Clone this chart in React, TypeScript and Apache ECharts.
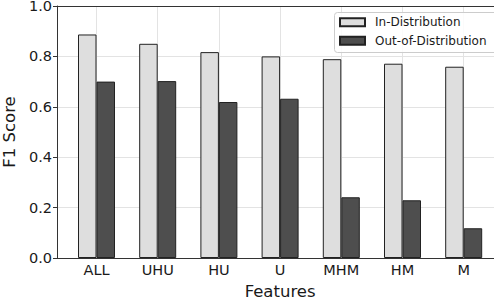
import React, { useEffect, useRef } from "react";
import * as echarts from "echarts";

const categories = ["ALL", "UHU", "HU", "U", "MHM", "HM", "M"];
const inDistribution = [0.887, 0.85, 0.817, 0.8, 0.789, 0.771, 0.759];
const outOfDistribution = [0.7, 0.702, 0.619, 0.632, 0.241, 0.229, 0.118];
const seriesNames = ["In-Distribution", "Out-of-Distribution"];

const FONT = "DejaVu Sans";

export default function App() {
  const ref = useRef<HTMLDivElement>(null);
  useEffect(() => {
    if (!ref.current) return;
    const chart = echarts.init(ref.current, undefined, { renderer: "svg" });
    chart.setOption({
      animation: false,
      backgroundColor: "#ffffff",
      grid: [
        { left: 57, top: 6, width: 437, height: 252, outerBoundsMode: "none", containLabel: false },
        { left: 65.9, top: 6, width: 428.4, height: 252, outerBoundsMode: "none", containLabel: false },
        { left: 35.3, top: 6, width: 489.6, height: 252, outerBoundsMode: "none", containLabel: false },
      ],
      graphic: [
        {
          type: "rect",
          z: 9,
          shape: { x: 334.5, y: 12.5, width: 200, height: 40, r: 3 },
          style: { fill: "rgba(255,255,255,0.85)", stroke: "#cccccc", lineWidth: 1 },
          silent: true,
        },
      ],
      legend: {
        data: seriesNames,
        orient: "vertical",
        left: 334,
        top: 12.3,
        itemWidth: 25,
        itemHeight: 8,
        itemGap: 4.5,
        icon: "rect",
        padding: [3, 5, 5, 5],
        textStyle: { fontFamily: FONT, fontSize: 12, color: "#1a1a1a", lineHeight: 14, padding: [0, 0, 0, 5] },
        z: 10,
      },
      xAxis: [
        {
          gridIndex: 0,
          type: "value",
          min: 0,
          max: 1,
          position: "bottom",
          axisLine: { show: true, onZero: false, lineStyle: { color: "#333" } },
          axisTick: { show: false },
          axisLabel: { show: false },
          splitLine: { show: false },
        },
        {
          gridIndex: 0,
          type: "value",
          min: 0,
          max: 1,
          position: "top",
          axisLine: { show: true, onZero: false, lineStyle: { color: "#333" } },
          axisTick: { show: false },
          axisLabel: { show: false },
          splitLine: { show: false },
        },
        {
          gridIndex: 1,
          type: "category",
          data: categories,
          axisLine: { show: false },
          axisTick: { alignWithLabel: true, length: 4, lineStyle: { color: "#333" } },
          axisLabel: { fontFamily: FONT, fontSize: 14.5, color: "#1a1a1a", margin: 4, lineHeight: 16 },
          splitLine: { show: false },
          name: "Features",
          nameLocation: "middle",
          nameGap: 16,
          nameTextStyle: { fontFamily: FONT, fontSize: 16.5, color: "#1a1a1a", verticalAlign: "top", lineHeight: 17 },
        },
        {
          gridIndex: 2,
          type: "value",
          min: -1,
          max: 7,
          interval: 1,
          axisLine: { show: false },
          axisTick: { show: false },
          axisLabel: { show: false },
          splitLine: { show: true, showMinLine: false, showMaxLine: false, lineStyle: { color: "#e3e3e3", width: 1 } },
        },
      ],
      yAxis: [
        {
          gridIndex: 0,
          type: "value",
          min: 0,
          max: 1,
          interval: 0.2,
          axisLine: { show: true, lineStyle: { color: "#333" } },
          axisTick: { show: true, length: 4, lineStyle: { color: "#333" } },
          axisLabel: { fontFamily: FONT, fontSize: 14.5, color: "#1a1a1a", margin: 5, lineHeight: 12, formatter: (v: number) => v.toFixed(1) },
          splitLine: { show: true, showMinLine: false, showMaxLine: false, lineStyle: { color: "#e3e3e3", width: 1 } },
          name: "F1 Score",
          nameLocation: "middle",
          nameGap: 28,
          nameTextStyle: { fontFamily: FONT, fontSize: 16.5, color: "#1a1a1a", lineHeight: 17 },
        },
        { gridIndex: 1, type: "value", min: 0, max: 1, show: false, position: "left" },
        { gridIndex: 2, type: "value", min: 0, max: 1, show: false, position: "left" },
      ],
      series: [
        {
          name: seriesNames[0],
          type: "bar",
          xAxisIndex: 2,
          yAxisIndex: 1,
          data: inDistribution,
          barWidth: 18.5,
          barGap: "0%",
          z: 2,
          itemStyle: { color: "#dedede", borderColor: "#222", borderWidth: 1 },
        },
        {
          name: seriesNames[1],
          type: "bar",
          xAxisIndex: 2,
          yAxisIndex: 1,
          data: outOfDistribution,
          barWidth: 18.5,
          barGap: "0%",
          z: 2,
          itemStyle: { color: "#4e4e4e", borderColor: "#222", borderWidth: 1 },
        },
      ],
    });
    return () => chart.dispose();
  }, []);
  return <div ref={ref} style={{ width: 494, height: 298, position: "absolute", left: 0, top: 0 }} />;
}
